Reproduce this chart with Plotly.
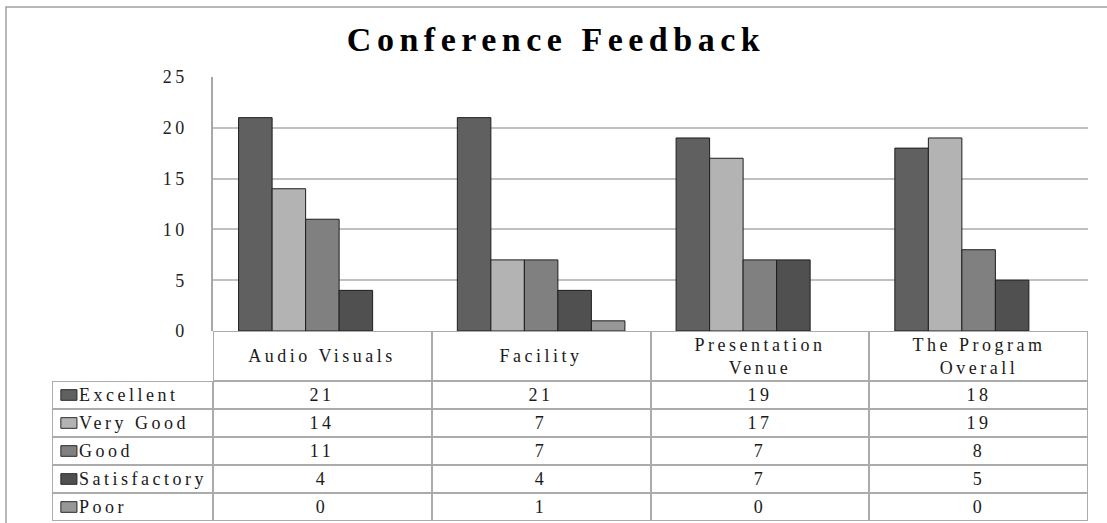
import plotly.graph_objects as go

# ---------------- data ----------------
categories = ["Audio Visuals", "Facility", "Presentation Venue", "The Program Overall"]
category_labels = ["Audio Visuals", "Facility", "Presentation<br>Venue", "The Program<br>Overall"]
series_names = ["Excellent", "Very Good", "Good", "Satisfactory", "Poor"]
excellent = [21, 21, 19, 18]
very_good = [14, 7, 17, 19]
good = [11, 7, 7, 8]
satisfactory = [4, 4, 7, 5]
poor = [0, 1, 0, 0]
y_ticks = [0, 5, 10, 15, 20, 25]
title_text = "Conference Feedback"

series_values = [excellent, very_good, good, satisfactory, poor]
colors = ["#606060", "#b3b3b3", "#808080", "#505050", "#979797"]

W, H = 1107, 523
SERIF = "Liberation Serif, Times New Roman, serif"
BORDER = "#ababab"
TXT = "#1a1a1a"
WHITE_SCALE = [[0, "white"], [1, "white"]]
KEY_START, KEY_LEN, KEY_THICK = 0.055, 0.1, 0.38   # legend-key swatch geometry (axis units)


def fx(px):
    return px / W


def fy(py):
    return 1 - py / H


fig = go.Figure()

# ---- bars ----
for name, vals, col in zip(series_names, series_values, colors):
    fig.add_trace(go.Bar(
        x=categories, y=vals, name=name, xaxis="x", yaxis="y",
        marker=dict(color=col, line=dict(color="#1e1e1e", width=[1 if v > 0 else 0 for v in vals])),
        showlegend=False, hoverinfo="x+y+name",
    ))

# ---- data table (built from heatmaps sharing the category axis) ----
# header row: category names
fig.add_trace(go.Heatmap(
    x=categories, y=[0], z=[[0] * len(categories)], text=[category_labels],
    texttemplate="%{text}", textfont=dict(family=SERIF, size=18, color=TXT),
    colorscale=WHITE_SCALE, zmin=0, zmax=1, showscale=False,
    xgap=2, ygap=2, hoverinfo="skip", xaxis="x", yaxis="y2",
))
# value cells
fig.add_trace(go.Heatmap(
    x=categories, y=series_names, z=series_values, text=series_values,
    texttemplate="%{text}", textfont=dict(family=SERIF, size=18, color=TXT),
    colorscale=WHITE_SCALE, zmin=0, zmax=1, showscale=False,
    xgap=2, ygap=2, hoverinfo="skip", xaxis="x", yaxis="y3",
))
# legend-key column
fig.add_trace(go.Heatmap(
    x=[0.5], y=series_names, z=[[0] for _ in series_names],
    colorscale=WHITE_SCALE, zmin=0, zmax=1, showscale=False,
    xgap=2, ygap=2, hoverinfo="skip", xaxis="x2", yaxis="y4",
))
fig.add_trace(go.Bar(
    orientation="h", y=series_names, x=[KEY_LEN] * len(series_names), base=KEY_START,
    width=KEY_THICK,
    marker=dict(color=colors, line=dict(color="#2a2a2a", width=1)),
    hoverinfo="skip", showlegend=False, xaxis="x2", yaxis="y4",
))

# grey underlays that show through the cell gaps as table rules
for xr, yr in [("x domain", "y2 domain"), ("x domain", "y3 domain"), ("x2 domain", "y4 domain")]:
    fig.add_shape(type="rect", xref=xr, yref=yr, x0=0, x1=1, y0=0, y1=1,
                  fillcolor=BORDER, line=dict(width=0), layer="below")

# outer chart border
fig.add_shape(type="rect", xref="paper", yref="paper",
              x0=fx(6), x1=1.02, y0=-0.02, y1=fy(7),
              line=dict(color="#a0a0a0", width=1.5), fillcolor="rgba(0,0,0,0)", layer="above")

body_dom = [fy(521), fy(381)]
hidden = dict(showticklabels=False, showgrid=False, zeroline=False, ticks="",
              fixedrange=True, automargin=False)
fig.update_layout(
    width=W, height=H,
    margin=dict(l=0, r=0, t=0, b=0, autoexpand=False),
    paper_bgcolor="white", plot_bgcolor="white",
    barmode="group", bargap=0.234, bargroupgap=0,
    title=dict(text=f"<b>{title_text}</b>", x=fx(556), xanchor="center",
               y=fy(39), yanchor="middle", xref="paper", yref="paper", automargin=False,
               font=dict(family=SERIF, size=34, color="#000000")),
    xaxis=dict(domain=[fx(213), fx(1088)], range=[-0.5, 3.5], showline=False, **hidden),
    yaxis=dict(domain=[fy(331), fy(77)], range=[0, 25], tickvals=y_ticks,
               showgrid=True, gridcolor="#c0c0c0", gridwidth=1.5,
               showline=True, linecolor="#a8a8a8", linewidth=1.5,
               zeroline=False, ticks="", ticklabelstandoff=20, fixedrange=True, automargin=False,
               tickfont=dict(family=SERIF, size=18, color="#222222")),
    yaxis2=dict(domain=[fy(381), fy(331)], anchor="x", range=[-0.5, 0.5], **hidden),
    yaxis3=dict(domain=body_dom, anchor="x", type="category", range=[4.5, -0.5], **hidden),
    xaxis2=dict(domain=[fx(52), fx(213)], anchor="y4", range=[0, 1], **hidden),
    yaxis4=dict(domain=body_dom, anchor="x2", type="category", range=[4.5, -0.5],
                showgrid=False, zeroline=False, ticks="", fixedrange=True, automargin=False,
                ticklabelposition="inside", ticklabelstandoff=24,
                tickfont=dict(family=SERIF, size=18, color=TXT)),
)

post = """
document.documentElement.style.margin = '0';
document.body.style.margin = '0';
document.documentElement.style.overflow = 'hidden';
document.body.style.overflow = 'hidden';
var gd = document.getElementById('{plot_id}');
gd.style.position = 'fixed'; gd.style.top = '0px'; gd.style.left = '0px';
var st = document.createElement('style');
st.textContent = '.main-svg text{letter-spacing:3.5px;} .main-svg .gtitle{letter-spacing:5.5px;}';
document.head.appendChild(st);
"""

fig.write_html("out.html", post_script=post, config={"displayModeBar": False})
